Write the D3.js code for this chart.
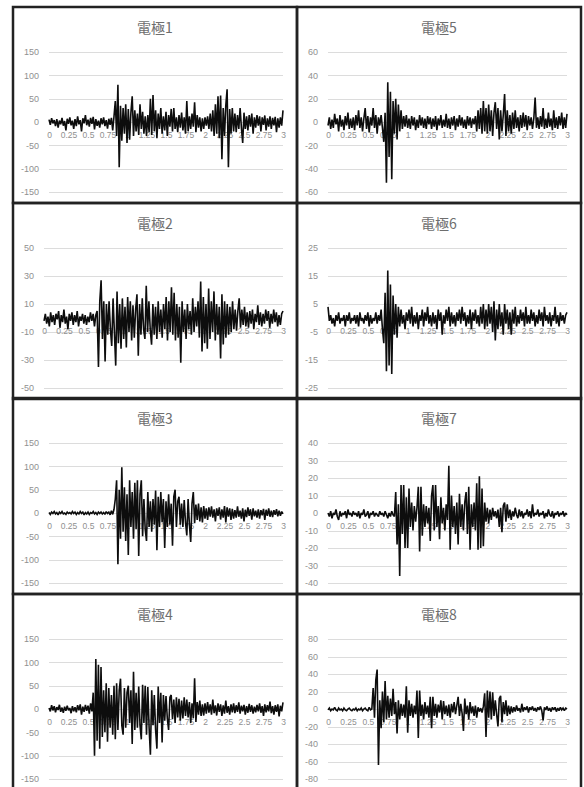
<!DOCTYPE html>
<html>
<head>
<meta charset="utf-8">
<script src="https://cdn.jsdelivr.net/npm/d3@7"></script>
<style>
  body { margin: 0; background: #fff; }
  svg { display: block; }
</style>
</head>
<body>
<svg id="chart" width="584" height="787"></svg>
<script>
// Recording window (seconds) and its tick labels
const timeRange = [0, 3];
const timeTicks = [0, 0.25, 0.5, 0.75, 1, 1.25, 1.5, 1.75, 2, 2.25, 2.5, 2.75, 3];

const titles = ["電極1", "電極2", "電極3", "電極4", "電極5", "電極6", "電極7", "電極8"];

// Y tick values per electrode
const yTicks1 = [-150, -100, -50, 0, 50, 100, 150];
const yTicks2 = [-50, -30, -10, 10, 30, 50];
const yTicks3 = [-150, -100, -50, 0, 50, 100, 150];
const yTicks4 = [-150, -100, -50, 0, 50, 100, 150];
const yTicks5 = [-60, -40, -20, 0, 20, 40, 60];
const yTicks6 = [-25, -15, -5, 5, 15, 25];
const yTicks7 = [-40, -30, -20, -10, 0, 10, 20, 30, 40];
const yTicks8 = [-80, -60, -40, -20, 0, 20, 40, 60, 80];

// Sampled potentials, evenly spaced over the recording window
const electrode1 = [
  5,-6,8,-3,4,-9,6,-12,3,-5,9,-8,2,-18,7,-4,10,-7,3,-15,
  6,-9,12,-5,4,-20,8,-3,15,-7,5,-10,9,-4,11,-16,6,-8,3,-12,
  8,-5,10,-9,4,-14,7,-6,9,-18,12,45,-30,80,-97,35,-40,30,-25,38,
  -45,28,-38,20,55,-30,25,-20,18,-28,38,-15,22,-25,12,-30,15,-22,50,-28,
  58,-20,25,-35,18,-15,30,-25,12,-18,22,-30,15,-10,28,-20,30,-15,10,-22,
  15,-12,20,-18,10,-25,45,-20,12,-15,18,-10,42,-22,15,-12,10,-20,8,-15,
  10,-8,12,-15,18,-20,25,-30,38,-25,55,-35,57,-80,30,-30,35,70,-97,28,
  -25,30,-20,18,-22,15,-15,30,-12,-45,20,-15,12,-18,15,-10,18,-25,10,-12,
  15,-8,12,-20,10,-6,14,-18,8,-10,12,-15,9,-7,11,-22,8,-12,10,-8,25
];
const electrode2 = [
  -2,3,-4,1,-6,4,-3,2,-5,3,-1,5,-7,2,-3,6,-4,1,-8,3,
  -2,4,-5,2,-3,5,-6,1,-2,3,-4,2,-5,1,-3,4,-2,3,-6,2,
  5,-35,12,27,-15,12,-31,10,-12,12,-8,-20,14,-10,-34,19,-18,10,-22,14,
  -15,8,-21,15,-10,12,-16,9,-14,6,17,-27,10,-12,14,-8,-15,23,-10,12,
  -8,-19,10,-12,8,-15,12,-10,6,-14,10,-8,15,-16,12,-10,22,-12,18,-16,
  10,-14,8,-32,12,-10,6,-15,10,-8,5,-12,14,-10,8,-6,12,-14,26,-24,
  15,-18,10,-22,21,-15,12,-10,19,-16,10,-12,8,-29,17,-19,12,-14,10,-12,
  8,-10,12,-8,6,-9,5,14,-7,6,-5,8,-6,4,-7,5,-4,6,-8,3,
  -3,9,-5,4,-6,3,-4,6,-2,5,-7,3,-4,6,-3,4,-6,2,-5,3,5
];
const electrode3 = [
  1,-3,2,-1,3,-2,1,-4,2,-1,3,-2,0,-3,2,-1,1,-2,3,-1,
  2,-3,1,-2,3,-1,2,-4,1,-2,2,-3,1,-1,3,-2,1,-3,2,-1,
  2,-2,1,-3,3,-1,2,-4,5,-3,8,30,70,-110,50,-55,98,-40,55,-60,
  40,-90,70,-30,45,-55,65,-35,70,-92,40,70,-50,30,-35,-60,45,-30,25,-40,
  30,-25,48,-80,35,-30,45,-20,30,-75,25,-30,40,-25,20,-70,35,50,-30,25,
  35,-25,20,-30,28,-20,-48,30,-25,-62,20,45,-22,18,-15,20,-18,12,-20,15,
  -12,10,-15,12,-8,14,-10,8,-18,10,-6,12,-14,8,-10,15,-20,12,-8,10,
  -15,9,-12,6,-10,14,-8,5,-12,10,-18,7,-9,12,-6,8,-14,10,-7,5,
  -10,8,-12,6,-5,9,-15,7,-6,10,-8,5,-9,6,-4,8,-7,5,-6,3,-2
];
const electrode4 = [
  2,-5,8,-3,6,-7,4,-2,9,-6,3,-8,5,-4,7,-3,2,-9,6,-5,
  4,-7,8,-3,10,-12,5,-6,9,-4,7,-10,12,-5,35,-100,107,-68,95,-85,
  90,-60,40,-50,55,-70,45,-40,30,-55,50,-65,55,-45,40,65,-35,-55,45,-40,
  35,50,-30,40,-75,80,-45,35,-40,48,-35,-65,52,-30,50,-55,47,-40,-98,40,
  -35,30,-45,-85,48,-30,35,-72,30,-25,28,-20,-45,25,30,-22,20,-30,25,-18,
  22,-25,18,-20,25,-15,20,-18,15,-30,12,-20,66,-28,15,-12,18,-15,10,-14,
  12,-10,15,-8,10,-12,20,-9,8,-14,12,-6,10,-15,8,-10,18,-8,6,-12,
  10,-7,12,-9,8,-6,14,-10,7,-5,9,-12,6,-8,11,-6,8,-10,5,-7,
  9,-5,12,-8,6,-15,10,-7,8,-5,16,-9,6,-12,8,-6,10,-16,7,-5,14
];
const electrode5 = [
  -3,4,-6,2,-5,7,-2,3,-8,6,-4,2,-7,5,-3,8,-6,3,-5,4,
  -7,6,-3,10,-5,4,-8,3,12,-6,5,-9,4,-3,12,-5,6,-10,4,-3,
  6,-5,-17,8,-52,34,-30,26,-49,18,-10,20,-15,15,-8,10,-6,5,-4,6,
  -5,3,-6,5,-3,4,-7,2,-5,6,-3,4,-5,3,-6,5,-2,4,-6,3,
  -4,5,-7,3,-3,6,-5,2,-4,7,-5,3,-6,4,-3,5,-7,3,-4,6,
  -3,4,-5,2,-6,5,-3,4,-5,3,-2,5,-8,10,-6,12,-10,18,-8,12,
  -10,15,-8,10,-12,8,17,-6,12,-15,10,-8,6,24,-12,10,-8,6,-10,8,
  -6,10,-5,4,-8,6,-5,8,-4,6,-7,5,-3,4,-6,3,21,-5,4,-6,
  5,-4,12,-6,3,-5,8,-4,3,-7,10,-5,4,-6,5,-3,8,-6,4,-5,7
];
const electrode6 = [
  4,-1,1,-2,0,-3,1,-1,2,-2,0,-1,1,-3,1,-1,2,-2,0,-1,
  1,-2,1,-3,2,-1,0,-2,1,-1,2,-3,1,-2,0,-1,2,-2,1,-1,
  3,-4,-9,9,-19,17,-17,12,-20,8,-6,5,-7,4,-3,3,-2,1,-4,2,
  -1,3,-2,4,-3,1,-2,2,-4,1,-1,3,-3,2,-1,4,-2,1,-3,2,
  -2,1,-4,3,-1,2,-6,1,-2,3,-1,4,-3,2,-2,1,-3,2,-1,3,
  -2,4,-1,2,-3,1,-2,3,-4,2,-1,3,-2,1,-3,4,-2,5,-4,3,
  -3,5,-2,4,-5,6,-8,3,-4,5,-3,2,-6,5,-2,3,-4,2,-6,3,
  -2,4,-3,1,-2,3,-1,2,-3,4,-2,1,-2,3,-1,2,-3,1,-2,3,
  -1,2,-3,4,-1,1,-2,2,-3,1,-1,4,-2,1,-3,2,-1,1,-2,1,2
];
const electrode7 = [
  0,-2,1,-3,0,-1,2,-2,-4,1,-2,0,-1,1,-3,2,-1,0,-2,1,
  -1,0,-2,1,-3,0,-1,2,-2,-1,1,-3,0,-1,1,-2,0,-1,-2,1,
  -1,0,-2,1,-1,-3,0,-2,1,-1,-2,12,-18,5,-36,16,-12,16,-20,9,
  -20,14,-8,6,-10,4,-5,3,15,-22,15,-13,5,-8,4,-6,3,-16,10,16,
  -10,16,-8,4,-15,9,-6,3,-10,5,-4,27,-21,10,-8,4,-12,6,-18,11,
  -8,5,-10,6,12,-12,15,-21,5,-8,6,-10,17,-21,21,-20,14,-19,6,-5,
  3,-6,2,-4,3,-2,1,-3,2,-8,3,-11,4,6,-5,5,-3,2,-4,1,
  -2,3,-1,-3,2,-2,1,-3,0,-1,2,-2,1,-3,5,-2,0,-1,2,-2,
  0,-1,1,-3,0,-2,2,-1,-2,1,-3,0,-1,1,-2,0,-1,1,-2,0,-1
];
const electrode8 = [
  -1,1,-2,0,-1,2,-1,-2,1,-1,0,-2,1,-1,-2,0,1,-1,-2,0,
  -1,1,-2,0,-1,1,-2,0,1,-1,-2,2,-1,0,24,-10,33,45,-64,10,
  -22,20,-15,32,-12,15,-10,12,-8,23,-6,8,-28,10,-12,6,-8,5,-10,26,
  -27,10,-8,6,-10,4,-6,21,-33,21,-8,5,-12,8,-6,4,-10,14,-22,14,
  -8,6,-10,5,-4,10,-12,9,-6,4,-8,5,-10,6,-4,8,-6,4,14,-8,
  6,-5,-25,12,-6,4,-12,8,-5,3,-8,4,-10,2,-3,1,-4,3,18,-32,
  21,-10,20,-12,19,-8,10,-6,-20,12,15,-15,8,-6,10,-8,4,-6,3,-4,
  2,-3,4,-2,1,-4,6,-3,2,-1,3,-4,2,-1,3,-2,1,-3,2,-1,
  3,-2,-13,2,-1,3,-2,1,-3,2,-1,2,-3,1,-2,2,-1,1,-2,1,0
];

const series = [electrode1, electrode2, electrode3, electrode4,
                electrode5, electrode6, electrode7, electrode8];
const yTickSets = [yTicks1, yTicks2, yTicks3, yTicks4,
                   yTicks5, yTicks6, yTicks7, yTicks8];

// Grid of panels: electrodes 1-4 down the left column, 5-8 down the right
const colX = [13, 297];
const rowY = [7, 203, 398, 594];
const panelW = 284;
const panelH = 196;

const svg = d3.select("#chart");
const labelFont = "'Liberation Sans', Arial, sans-serif";

function measure(texts, size) {
  const t = svg.append("text").attr("font-family", labelFont).attr("font-size", size);
  let w = 0;
  texts.forEach(s => { t.text(s); w = Math.max(w, t.node().getComputedTextLength()); });
  t.remove();
  return w;
}

series.forEach((values, k) => {
  const col = Math.floor(k / 4), row = k % 4;
  const px = colX[col], py = rowY[row];
  const ticks = yTickSets[k];
  const yMax = d3.max(ticks), yMin = d3.min(ticks);

  const g = svg.append("g");

  const labelW = measure(ticks.map(String), 9);
  const left = px + 8 + labelW + 10;
  const right = px + 270;
  const top = py + 45;
  const bottom = py + 185;

  const x = d3.scaleLinear().domain(timeRange).range([left, right]);
  const y = d3.scaleLinear().domain([yMin, yMax]).range([bottom, top]);
  const sampleTime = d3.scaleLinear().domain([0, values.length - 1]).range(timeRange);

  // title
  g.append("text")
    .attr("x", px + panelW / 2)
    .attr("y", py + 26)
    .attr("text-anchor", "middle")
    .attr("font-family", "'Noto Sans CJK JP', 'Noto Sans', sans-serif")
    .attr("font-size", 14)
    .attr("fill", "#6e6e6e")
    .text(titles[k]);

  // horizontal gridlines
  g.append("g").selectAll("line").data(ticks).join("line")
    .attr("x1", left).attr("x2", right)
    .attr("y1", d => Math.round(y(d)) + 0.5).attr("y2", d => Math.round(y(d)) + 0.5)
    .attr("stroke", "#dcdcdc").attr("stroke-width", 1);

  // value axis labels
  const yAxis = g.append("g")
    .attr("transform", `translate(${left},0)`)
    .call(d3.axisLeft(y).tickValues(ticks).tickSize(0).tickPadding(10).tickFormat(d => d));
  yAxis.select(".domain").remove();
  yAxis.selectAll("text").attr("font-family", labelFont).attr("font-size", 9).attr("fill", "#909090");

  // time axis labels sit just under the zero line
  const xAxis = g.append("g")
    .attr("transform", `translate(0,${y(0)})`)
    .call(d3.axisBottom(x).tickValues(timeTicks).tickSize(0).tickPadding(10).tickFormat(d => d));
  xAxis.select(".domain").remove();
  xAxis.selectAll("text").attr("font-family", labelFont).attr("font-size", 8.5).attr("fill", "#909090");

  // signal trace
  const line = d3.line()
    .x((d, i) => x(sampleTime(i)))
    .y(d => y(d));
  g.append("path")
    .datum(values)
    .attr("d", line)
    .attr("fill", "none")
    .attr("stroke", "#0d0d0d")
    .attr("stroke-width", 1.6)
    .attr("stroke-linejoin", "miter")
    .attr("stroke-miterlimit", 2);

  // panel frame
  g.append("rect")
    .attr("x", px).attr("y", py)
    .attr("width", panelW).attr("height", panelH)
    .attr("fill", "none")
    .attr("stroke", "#222")
    .attr("stroke-width", 2.5);
});
</script>
</body>
</html>
